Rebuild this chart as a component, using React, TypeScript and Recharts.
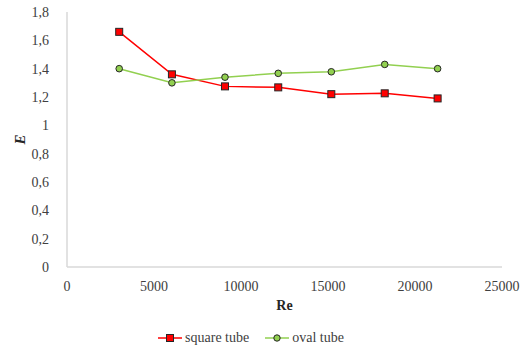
import { CartesianGrid, Legend, Line, LineChart, XAxis, YAxis } from "recharts";

const reynolds = [3000, 6030, 9080, 12140, 15190, 18260, 21300];
const squareTube = [1.66, 1.36, 1.275, 1.268, 1.22, 1.226, 1.19];
const ovalTube = [1.4, 1.3, 1.34, 1.367, 1.378, 1.43, 1.4];
const xTicks = [0, 5000, 10000, 15000, 20000, 25000];
const yTicks = [0, 0.2, 0.4, 0.6, 0.8, 1, 1.2, 1.4, 1.6, 1.8];

const data = reynolds.map((re, i) => ({ re, square: squareTube[i], oval: ovalTube[i] }));

const FONT = "'Liberation Serif', 'Times New Roman', Times, Tinos, 'DejaVu Serif', 'Noto Serif', serif";
const AXIS_COLOR = "#d9d9d9";
const RED = "#FF0000";
const GREEN = "#92D050";
const TICK = { fill: "#404040", fontSize: 14, fontFamily: FONT };

const fmt = (v: number) => (Number.isInteger(v) ? String(v) : v.toFixed(1).replace(".", ","));

function SquareDot(props: any) {
  const { cx, cy, index } = props;
  if (cx == null || cy == null) return null;
  return <rect key={`sq-${index}`} x={cx - 3.5} y={cy - 3.5} width={7} height={7} fill={RED} stroke="#262626" strokeWidth={1} />;
}

function RoundDot(props: any) {
  const { cx, cy, index } = props;
  if (cx == null || cy == null) return null;
  return <circle key={`ov-${index}`} cx={cx} cy={cy} r={3.3} fill={GREEN} stroke="#262626" strokeWidth={1} />;
}

function LegendBox() {
  const items = [
    { name: "square tube", color: RED, square: true },
    { name: "oval tube", color: GREEN, square: false },
  ];
  return (
    <div style={{ display: "flex", justifyContent: "center", gap: 16, paddingTop: 13, fontFamily: FONT, fontSize: 14, color: "#404040" }}>
      {items.map((it) => (
        <div key={it.name} style={{ display: "flex", alignItems: "center", gap: 3 }}>
          <svg width={24} height={10}>
            <line x1={0} y1={5} x2={24} y2={5} stroke={it.color} strokeWidth={1.5} />
            {it.square ? (
              <rect x={8.5} y={1.5} width={7} height={7} fill={RED} stroke="#262626" strokeWidth={1} />
            ) : (
              <circle cx={12} cy={5} r={3.2} fill={GREEN} stroke="#262626" strokeWidth={1} />
            )}
          </svg>
          <span>{it.name}</span>
        </div>
      ))}
    </div>
  );
}

export default function App() {
  return (
    <div style={{ position: "absolute", left: 0, top: 0, background: "#fff", fontFamily: FONT }}>
      <LineChart width={521} height={347} data={data} margin={{ top: 12, right: 19, left: 0, bottom: 0 }} style={{ fontFamily: FONT }}>
        <CartesianGrid horizontal={false} vertical={false} />
        <XAxis
          dataKey="re"
          type="number"
          domain={[0, 25000]}
          ticks={xTicks}
          tick={TICK}
          tickLine={false}
          tickMargin={8}
          height={50}
          stroke={AXIS_COLOR}
          strokeWidth={1.5}
          label={{ value: "Re", position: "insideBottom", offset: 7, fill: "#262626", fontSize: 14, fontWeight: "bold", fontFamily: FONT }}
        />
        <YAxis
          type="number"
          domain={[0, 1.8]}
          ticks={yTicks}
          tickFormatter={fmt}
          tick={TICK}
          tickLine={false}
          tickMargin={12}
          width={67}
          stroke={AXIS_COLOR}
          strokeWidth={1.5}
          label={{
            content: (p: any) => {
              const vb = p.viewBox || { x: 0, y: 12, height: 255 };
              const x = vb.x + 20;
              const y = vb.y + vb.height / 2;
              return (
                <text x={x} y={y} transform={`rotate(-90 ${x} ${y})`} textAnchor="middle" dominantBaseline="central" fill="#262626" fontSize={15} fontWeight="bold" fontStyle="italic" fontFamily={FONT}>
                  E
                </text>
              );
            },
          }}
        />
        <Legend verticalAlign="bottom" height={30} content={() => <LegendBox />} />
        <Line dataKey="square" name="square tube" stroke={RED} strokeWidth={1.5} dot={SquareDot} activeDot={false} isAnimationActive={false} />
        <Line dataKey="oval" name="oval tube" stroke={GREEN} strokeWidth={1.5} dot={RoundDot} activeDot={false} isAnimationActive={false} />
      </LineChart>
    </div>
  );
}
